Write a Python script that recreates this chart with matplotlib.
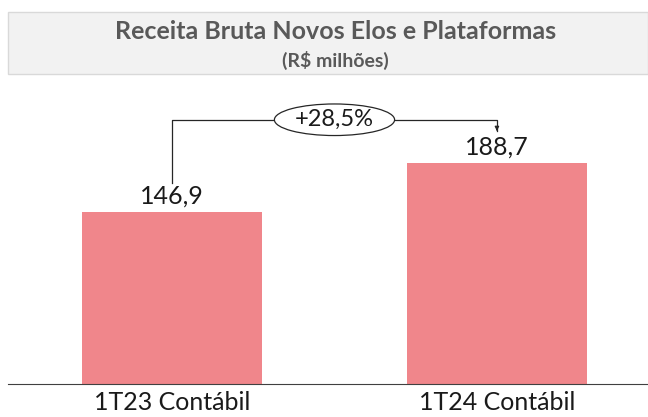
import matplotlib.pyplot as plt
from matplotlib.patches import Ellipse, Rectangle

categories = ['1T23 Contábil', '1T24 Contábil']
values = [146.9, 188.7]
value_labels = ['146,9', '188,7']
title = 'Receita Bruta Novos Elos e Plataformas'
subtitle = '(R$ milhões)'

plt.rcParams['font.family'] = ['Lato', 'DejaVu Sans']

fig = plt.figure(figsize=(6.48, 4.17), dpi=100)

# gray title band
fig.patches.append(Rectangle((8 / 648, 0.8225), 1 - 8 / 648, 0.1485,
                             transform=fig.transFigure, facecolor='#f2f2f2',
                             edgecolor='#d9d9d9', linewidth=1))
fig.text(0.518, 0.924, title, ha='center', va='center', fontsize=18,
         fontweight='bold', color='#595959')
fig.text(0.518, 0.856, subtitle, ha='center', va='center', fontsize=14,
         fontweight='bold', color='#595959')

ax = fig.add_axes([8 / 648, 33 / 417, 640 / 648, 304 / 417])
x = list(range(len(categories)))
ax.bar(x, values, width=0.554, color='#f0868b')
for xi, v, lab in zip(x, values, value_labels):
    ax.text(xi, v + 4, lab, ha='center', va='bottom', fontsize=18,
            fontweight='normal', color='#1a1a1a')

ax.set_xlim(-0.505, 1.465)
ax.set_ylim(0, 260)
ax.set_xticks(x)
ax.set_xticklabels(categories, fontsize=18, fontweight='normal', color='#1a1a1a')
ax.tick_params(axis='x', length=0, pad=5)
ax.set_yticks([])
for s in ['top', 'left', 'right']:
    ax.spines[s].set_visible(False)
ax.spines['bottom'].set_color('#404040')

# growth bracket
bracket_y = 226
ax.plot([x[0], x[0], x[1], x[1]], [values[0] + 25, bracket_y, bracket_y, 216],
        color='#262626', linewidth=0.9)
ax.annotate('', xy=(x[1], 214), xytext=(x[1], 220),
            arrowprops=dict(arrowstyle='-|>', color='#262626', lw=0.9,
                            mutation_scale=6))
growth = (values[1] / values[0] - 1) * 100
ax.add_patch(Ellipse((0.5, bracket_y), 0.37, 27, facecolor='white',
                     edgecolor='#262626', linewidth=0.9, zorder=3))
ax.text(0.5, bracket_y, f'+{growth:.1f}%'.replace('.', ','), ha='center',
        va='center', fontsize=17, fontweight='normal', color='#1a1a1a', zorder=4)

fig.savefig('out.png', dpi=100)
